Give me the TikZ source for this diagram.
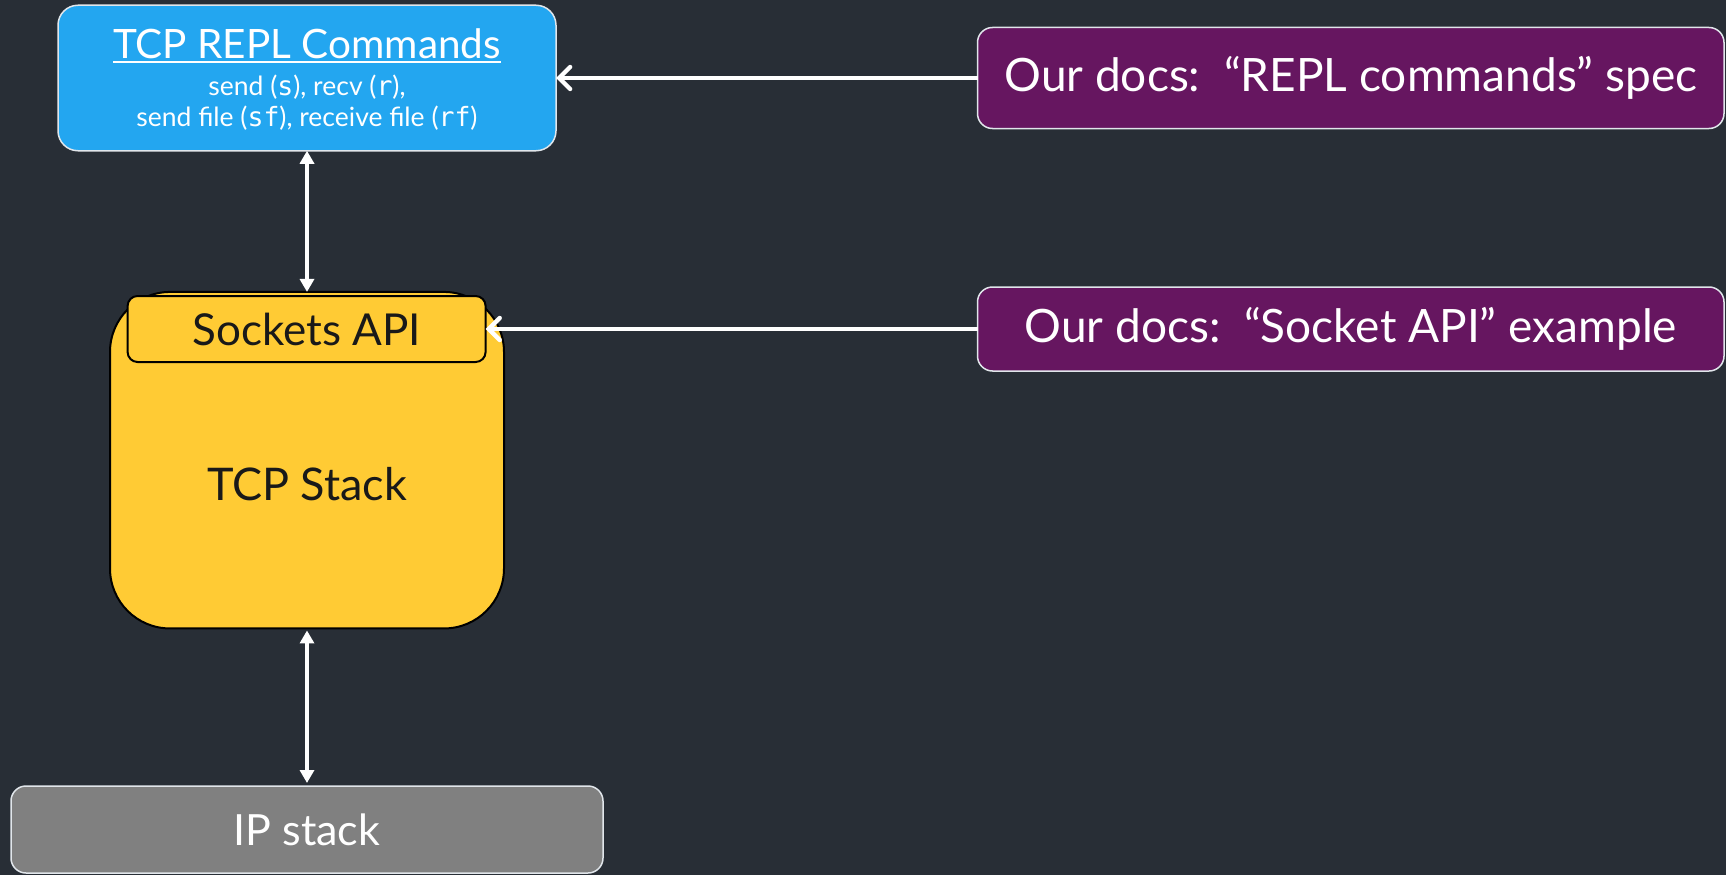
\documentclass[tikz,border=0pt]{standalone}
\usepackage{fontspec}
\setmainfont{Lato}
\newfontfamily\codefont{DejaVu Sans Mono}
\usetikzlibrary{arrows.meta}

\definecolor{bgslate}{RGB}{40,46,54}
\definecolor{replblue}{RGB}{35,166,240}
\definecolor{stackyellow}{RGB}{255,203,52}
\definecolor{docpurple}{RGB}{102,22,96}
\definecolor{ipgray}{RGB}{128,128,128}
\definecolor{edgegray}{RGB}{225,230,235}

% underline drawn as a rule of fixed thickness
\newcommand\titleline[1]{\setbox0\hbox{#1}\rlap{\rule[-4pt]{\wd0}{1.8pt}}\box0}
\newcommand\cmd[1]{{\codefont #1}}

\tikzset{
  box/.style={rectangle, inner sep=0pt, outer sep=0pt},
  docbox/.style={box, fill=docpurple, draw=edgegray, line width=1.5pt,
    rounded corners=15pt, minimum width=746.5pt, text=white,
    font=\fontsize{46}{55}\selectfont},
  yellowbox/.style={box, fill=stackyellow, draw=black, line width=2pt},
  feed/.style={draw=white, line width=4.4pt,
    -{Straight Barb[length=11pt,width=22pt,line cap=round]}},
  pipe/.style={draw=white, line width=4pt,
    {Triangle[length=13pt,width=14pt]}-{Triangle[length=13pt,width=14pt]}},
}

\begin{document}
\begin{tikzpicture}[x=1pt,y=-1pt]
  \useasboundingbox (0,0) rectangle (1726,875);
  \fill[bgslate] (0,0) rectangle (1726,875);

  % command layer
  \node[box, fill=replblue, draw=edgegray, line width=1.5pt, rounded corners=20pt,
        minimum width=498pt, minimum height=145.5pt, text=white, align=center,
        font=\fontsize{26.5}{31}\selectfont]
    (repl) at (307,78)
    {\rule{0pt}{33pt}{\fontsize{40.5}{31}\selectfont\titleline{TCP REPL Commands}}\\[5.7pt]
     send (\cmd{s}), recv (\cmd{r}),\\
     send file (\cmd{sf}), receive file (\cmd{rf})};

  % TCP stack with its socket interface
  \node[yellowbox, rounded corners=60pt, minimum width=394pt, minimum height=336.5pt]
    (stack) at (307,460.2) {};
  \node[text=black!90, font=\fontsize{45}{54}\selectfont] (stacktext) at (307,484) {TCP Stack};
  \node[yellowbox, rounded corners=10pt, minimum width=358pt, minimum height=66pt,
        text=black!90, font=\fontsize{44}{53}\selectfont]
    (sock) at (306.6,329) {Sockets API};

  % IP layer
  \node[box, fill=ipgray, draw=edgegray, line width=1.5pt, rounded corners=15pt,
        minimum width=592pt, minimum height=87pt, text=white,
        font=\fontsize{43}{52}\selectfont]
    (ip) at (307,829.5) {IP stack};

  % documentation
  \node[docbox, minimum height=101pt] (docrepl) at (1350.75,78)
    {Our docs:\ \ “REPL commands” spec};
  \node[docbox, minimum height=84pt] (docsock) at (1350.75,329)
    {Our docs:\ \ “Socket API” example};

  % connectors
  \draw[feed] (docrepl.west) -- (repl.east);
  \draw[feed] (docsock.west) -- (sock.east);
  \draw[pipe] (repl.south) -- (stack.north);
  \draw[pipe, shorten <=2pt, shorten >=3pt] (stack.south) -- (ip.north);
\end{tikzpicture}
\end{document}
